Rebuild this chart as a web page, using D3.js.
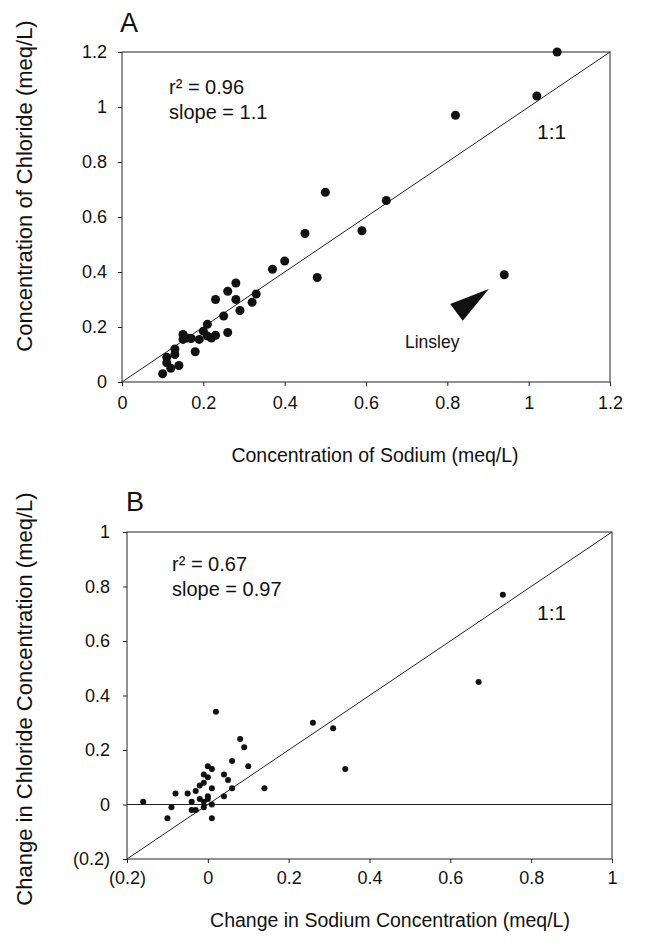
<!DOCTYPE html>
<meta charset="utf-8">
<style>
body { margin: 0; background: #fff; }
svg { display: block; }
text { font-family: "Liberation Sans", Arial, Helvetica, sans-serif; fill: #111; }
.frame { fill: none; stroke: #222; stroke-width: 1; }
.ref line { stroke: #222; stroke-width: 1; fill: none; }
.tick line { stroke: #222; }
</style>
<body>
<svg id="chart" width="656" height="945"></svg>
<script src="https://cdnjs.cloudflare.com/ajax/libs/d3/7.8.5/d3.min.js"></script>
<script>

// ---- panel A: concentrations (meq/L)
var sodiumA   = [1.07, 1.02, 0.82, 0.50, 0.65, 0.45, 0.59, 0.40, 0.37, 0.48, 0.94,
                 0.28, 0.26, 0.33, 0.23, 0.28, 0.32, 0.29, 0.25, 0.21, 0.20, 0.26,
                 0.23, 0.22, 0.21, 0.15, 0.15, 0.17, 0.19, 0.16, 0.18, 0.13, 0.11,
                 0.13, 0.11, 0.14, 0.12, 0.10];
var chlorideA = [1.20, 1.04, 0.97, 0.69, 0.66, 0.54, 0.55, 0.44, 0.41, 0.38, 0.39,
                 0.36, 0.33, 0.32, 0.30, 0.30, 0.29, 0.26, 0.24, 0.21, 0.185, 0.18,
                 0.17, 0.16, 0.167, 0.173, 0.155, 0.158, 0.155, 0.16, 0.11, 0.12, 0.09,
                 0.10, 0.07, 0.06, 0.05, 0.03];

// ---- panel B: changes in concentration (meq/L)
var sodiumB   = [0.73, 0.67, 0.02, 0.26, 0.31, 0.34, 0.08, 0.09, 0.06, 0.10, 0.14,
                 0.00, 0.01, -0.01, 0.00, 0.04, 0.05, 0.06, 0.04, 0.01, -0.01, -0.02,
                 -0.03, -0.05, -0.08, -0.09, -0.10, -0.16, -0.04, -0.04, -0.03, -0.02,
                 0.00, -0.01, -0.01, 0.01, 0.01, 0.00];
var chlorideB = [0.77, 0.45, 0.34, 0.30, 0.28, 0.13, 0.24, 0.21, 0.16, 0.14, 0.06,
                 0.14, 0.13, 0.11, 0.10, 0.11, 0.09, 0.06, 0.03, 0.06, 0.08, 0.07,
                 0.05, 0.04, 0.04, -0.01, -0.05, 0.01, 0.01, -0.02, -0.02, 0.02,
                 0.03, -0.01, 0.01, 0.00, -0.05, 0.02];

var ticksA = [0, 0.2, 0.4, 0.6, 0.8, 1, 1.2];
var tickLabelsA = ["0", "0.2", "0.4", "0.6", "0.8", "1", "1.2"];
var ticksB = [-0.2, 0, 0.2, 0.4, 0.6, 0.8, 1];
var tickLabelsB = ["(0.2)", "0", "0.2", "0.4", "0.6", "0.8", "1"];

// arrowhead pointing at the Linsley sample (data units)
var arrowA = [[0.902, 0.338], [0.807, 0.284], [0.838, 0.223]];

var svg = d3.select("#chart");

function drawPanel(p) {
  var x = d3.scaleLinear().domain(p.domain).range([p.left, p.right]);
  var y = d3.scaleLinear().domain(p.domain).range([p.bottom, p.top]);
  var g = svg.append("g");
  var fmt = function(d) { return p.labels[p.ticks.indexOf(d)]; };

  g.append("g")
      .attr("transform", "translate(0," + p.bottom + ")")
      .call(d3.axisBottom(x).tickValues(p.ticks).tickFormat(fmt).tickSize(4).tickPadding(p.xPad))
      .call(function(a) { a.select(".domain").remove(); })
      .selectAll("text").attr("font-size", 18).attr("fill", "#111");

  g.append("g")
      .attr("transform", "translate(" + p.left + ",0)")
      .call(d3.axisLeft(y).tickValues(p.ticks).tickFormat(fmt).tickSize(4).tickPadding(p.yPad))
      .call(function(a) { a.select(".domain").remove(); })
      .selectAll("text").attr("font-size", 18).attr("fill", "#111");

  g.append("rect").attr("class", "frame")
      .attr("x", p.left).attr("y", p.top)
      .attr("width", p.right - p.left).attr("height", p.bottom - p.top);

  var ref = g.append("g").attr("class", "ref");
  ref.append("line")
      .attr("x1", x(p.domain[0])).attr("y1", y(p.domain[0]))
      .attr("x2", x(p.domain[1])).attr("y2", y(p.domain[1]));
  if (p.zeroLine) {
    ref.append("line")
        .attr("x1", x(p.domain[0])).attr("y1", y(0))
        .attr("x2", x(p.domain[1])).attr("y2", y(0));
  }

  g.append("g").selectAll("circle")
      .data(d3.zip(p.xs, p.ys))
      .enter().append("circle")
      .attr("cx", function(d) { return x(d[0]); })
      .attr("cy", function(d) { return y(d[1]); })
      .attr("r", p.r)
      .attr("fill", "#111");

  g.append("text").attr("x", p.letter[0]).attr("y", p.letter[1])
      .attr("font-size", 27).text(p.name);

  g.append("text").attr("x", p.stats[0]).attr("y", p.stats[1])
      .attr("font-size", 20).text(p.r2);
  g.append("text").attr("x", p.stats[0]).attr("y", p.stats[1] + 25)
      .attr("font-size", 20).text(p.slope);
  g.append("text").attr("x", p.one[0]).attr("y", p.one[1])
      .attr("font-size", 21).text("1:1");

  g.append("text")
      .attr("x", p.xTitle[0]).attr("y", p.xTitle[1])
      .attr("text-anchor", "middle").attr("font-size", 19.5)
      .text(p.xLabel);
  g.append("text")
      .attr("transform", "translate(" + p.yTitle[0] + "," + p.yTitle[1] + ") rotate(-90)")
      .attr("text-anchor", "middle").attr("font-size", 22)
      .text(p.yLabel);

  return { g: g, x: x, y: y };
}

var A = drawPanel({
  name: "A", domain: [0, 1.2], left: 122, right: 610, top: 52, bottom: 382,
  ticks: ticksA, labels: tickLabelsA, xs: sodiumA, ys: chlorideA, r: 4.5,
  xPad: 10, yPad: 11,
  letter: [120, 32], stats: [169, 94], one: [537, 139],
  r2: "r\u00B2 = 0.96", slope: "slope = 1.1",
  xTitle: [375, 462], yTitle: [32, 186],
  xLabel: "Concentration of Sodium (meq/L)",
  yLabel: "Concentration of Chloride (meq/L)"
});

A.g.append("path")
    .attr("d", d3.line().x(function(d) { return A.x(d[0]); }).y(function(d) { return A.y(d[1]); })(arrowA) + "Z")
    .attr("fill", "#111");
A.g.append("text").attr("x", 405).attr("y", 348).attr("font-size", 17.5).text("Linsley");

drawPanel({
  name: "B", domain: [-0.2, 1], left: 127, right: 612, top: 532, bottom: 859,
  ticks: ticksB, labels: tickLabelsB, xs: sodiumB, ys: chlorideB, r: 3, zeroLine: true,
  xPad: 8, yPad: 13,
  letter: [126, 511], stats: [172, 571], one: [537, 620],
  r2: "r\u00B2 = 0.67", slope: "slope = 0.97",
  xTitle: [390, 927], yTitle: [32, 699],
  xLabel: "Change in Sodium Concentration (meq/L)",
  yLabel: "Change in Chloride Concentration (meq/L)"
});

</script>
</body>
